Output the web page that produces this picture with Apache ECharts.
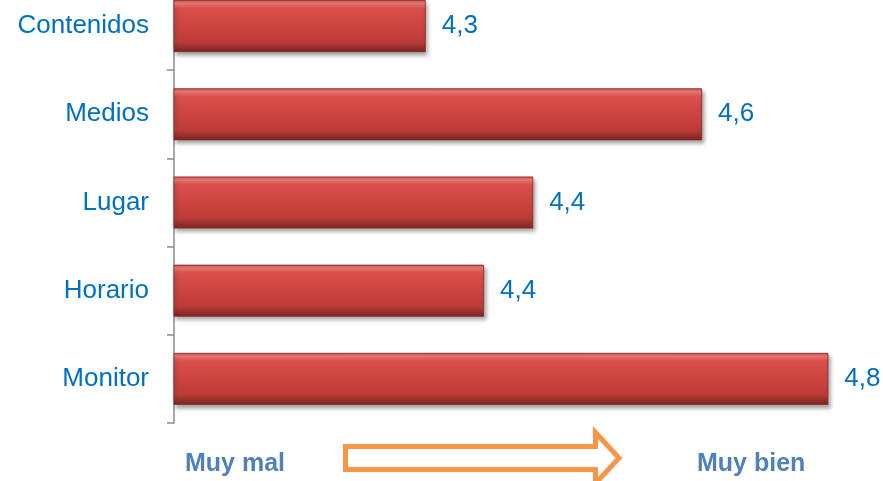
<!DOCTYPE html>
<html>
<head>
<meta charset="utf-8">
<script src="https://cdn.jsdelivr.net/npm/echarts@6/dist/echarts.min.js"></script>
<style>
html,body{margin:0;padding:0;background:#fff;}
#c{width:883px;height:481px;}
</style>
</head>
<body>
<div id="c"></div>
<script>
var categories = ['Contenidos', 'Medios', 'Lugar', 'Horario', 'Monitor'];
var values = [4.307, 4.644, 4.438, 4.378, 4.798];
var scaleLabels = ['Muy mal', 'Muy bien'];

var chart = echarts.init(document.getElementById('c'));
var barColor = new echarts.graphic.LinearGradient(0, 0, 0, 1, [
  {offset: 0, color: '#c9423f'},
  {offset: 0.06, color: '#f07d79'},
  {offset: 0.16, color: '#da4f4b'},
  {offset: 0.5, color: '#cc4440'},
  {offset: 0.8, color: '#bd3c38'},
  {offset: 0.9, color: '#9a302d'},
  {offset: 1, color: '#7a2523'}
]);
chart.setOption({
  animation: false,
  backgroundColor: '#ffffff',
  grid: {left: 174, right: 53, top: -18, bottom: 58, containLabel: false, outerBoundsMode: 'none'},
  xAxis: {type: 'value', min: 4, max: 4.8, show: false},
  yAxis: {
    type: 'category',
    data: categories,
    inverse: true,
    axisLine: {show: true, lineStyle: {color: '#8c8c8c', width: 1.5}},
    axisTick: {show: true, length: 7, lineStyle: {color: '#8c8c8c', width: 1.5}},
    axisLabel: {margin: 25, color: '#0070c0', fontSize: 26, fontFamily: '"Liberation Sans", Arial, sans-serif'},
    splitLine: {show: false}
  },
  series: [{
    type: 'bar',
    data: values,
    barWidth: 52,
    itemStyle: {
      color: barColor,
      borderColor: '#8a2a27',
      borderWidth: 0.8,
      shadowColor: 'rgba(0,0,0,0.35)',
      shadowBlur: 4,
      shadowOffsetX: 2,
      shadowOffsetY: 3
    },
    label: {
      show: true,
      position: 'right',
      distance: 16,
      color: '#0070c0',
      fontSize: 26,
      fontFamily: '"Liberation Sans", Arial, sans-serif',
      formatter: function (p) { return p.value.toFixed(1).replace('.', ','); }
    }
  }],
  graphic: [
    {
      type: 'polygon',
      shape: {points: [[345.5, 446.5], [595.5, 446.5], [595.5, 432.5], [619, 458], [595.5, 483.5], [595.5, 469.5], [345.5, 469.5]]},
      style: {fill: '#ffffff', stroke: '#f79646', lineWidth: 5, lineJoin: 'miter'}
    },
    {
      type: 'text', x: 185, y: 464,
      style: {text: scaleLabels[0], font: 'bold 25px "Liberation Sans", Arial, sans-serif', fill: '#4f81bd', verticalAlign: 'middle', align: 'left'}
    },
    {
      type: 'text', x: 697, y: 464,
      style: {text: scaleLabels[1], font: 'bold 25px "Liberation Sans", Arial, sans-serif', fill: '#4f81bd', verticalAlign: 'middle', align: 'left'}
    }
  ]
});
</script>
</body>
</html>
